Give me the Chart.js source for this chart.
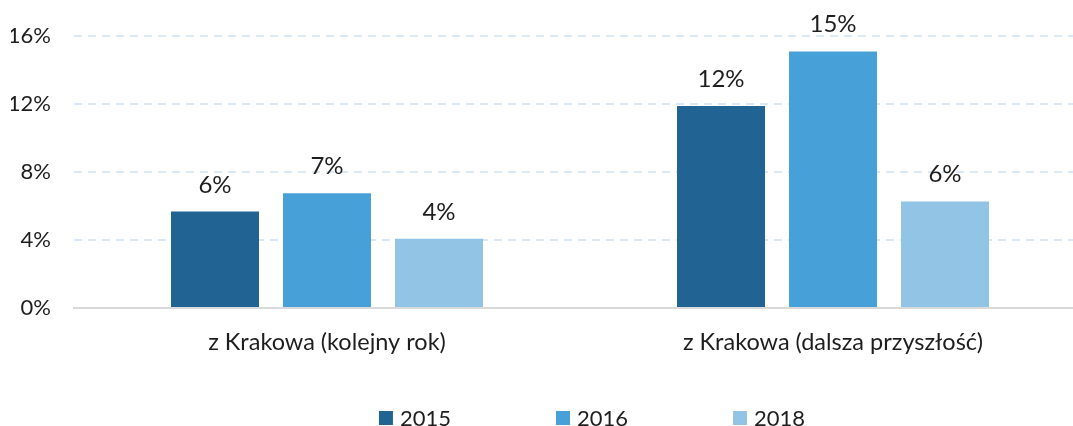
<!DOCTYPE html>
<html><head><meta charset="utf-8">
<script src="https://cdn.jsdelivr.net/npm/chart.js@4.4.1/dist/chart.umd.min.js"></script>
<style>
html,body{margin:0;padding:0;overflow:hidden;background:#fff;width:1073px;height:426px}
#wrap{width:1073px;height:426px;overflow:hidden;position:relative}
canvas{display:block}
</style></head>
<body><div id="wrap"><canvas id="c" width="1184" height="426"></canvas></div>
<script>
const categories = ['z Krakowa (kolejny rok)', 'z Krakowa (dalsza przyszłość)'];
const seriesLabels = ['2015', '2016', '2018'];
const values2015 = [5.68, 11.89];
const values2016 = [6.76, 15.10];
const values2018 = [4.08, 6.27];
const yTicks = [0, 4, 8, 12, 16];
const seriesColors = ['#216493', '#48A0D8', '#92C4E6'];

const FONT = 'Lato';
const TEXT = '#1e1e1e';

const valueLabels = {
  id: 'valueLabels',
  afterDatasetsDraw(chart) {
    const ctx = chart.ctx;
    ctx.save();
    ctx.font = '24px ' + FONT;
    ctx.fillStyle = TEXT;
    ctx.textAlign = 'center';
    ctx.textBaseline = 'alphabetic';
    chart.data.datasets.forEach((ds, i) => {
      chart.getDatasetMeta(i).data.forEach((bar, j) => {
        ctx.fillText(Math.round(ds.data[j]) + '%', bar.x, bar.y - 19);
      });
    });
    ctx.restore();
  }
};

const bottomLegend = {
  id: 'bottomLegend',
  afterDraw(chart) {
    const ctx = chart.ctx;
    ctx.save();
    ctx.font = '22px ' + FONT;
    ctx.textBaseline = 'middle';
    ctx.textAlign = 'left';
    const box = 14, gapText = 7, gapItem = 105, yc = 418;
    const items = chart.data.datasets.map(ds => ({
      t: ds.label, c: ds.backgroundColor,
      w: box + gapText + ctx.measureText(ds.label).width
    }));
    const total = items.reduce((s, it) => s + it.w, 0) + gapItem * (items.length - 1);
    let x = chart.width / 2 - total / 2;
    items.forEach(it => {
      ctx.fillStyle = it.c;
      ctx.fillRect(x, yc - 7, box, box);
      ctx.fillStyle = TEXT;
      ctx.fillText(it.t, x + box + gapText, yc + 1);
      x += it.w + gapItem;
    });
    ctx.restore();
  }
};

const seriesValues = [values2015, values2016, values2018];

new Chart(document.getElementById('c'), {
  type: 'bar',
  data: {
    labels: categories,
    datasets: seriesLabels.map((lab, i) => ({
      label: lab,
      data: seriesValues[i],
      backgroundColor: seriesColors[i],
      borderWidth: 0,
      categoryPercentage: 0.664,
      barPercentage: 0.786
    }))
  },
  options: {
    responsive: false,
    animation: false,
    layout: { padding: { left: 11, right: 98, top: 36, bottom: 70 } },
    plugins: { legend: { display: false }, tooltip: { enabled: false } },
    scales: {
      x: {
        grid: { display: false, drawTicks: false },
        border: { display: true, color: '#D9D9D9', width: 2 },
        ticks: { font: { family: FONT, size: 23.5 }, color: TEXT, padding: 20, maxRotation: 0 },
        afterFit: s => { s.height = 48; }
      },
      y: {
        min: 0, max: 16,
        afterBuildTicks: s => { s.ticks = yTicks.map(v => ({ value: v })); },
        grid: {
          color: c => (c.tick && c.tick.value === 0) ? 'rgba(0,0,0,0)' : '#DAE9F5',
          lineWidth: 2, drawTicks: false
        },
        border: { display: false, dash: [8, 6] },
        ticks: { font: { family: FONT, size: 22 }, color: TEXT, padding: 23, callback: v => v + '%' },
        afterFit: s => { s.width = 63; }
      }
    }
  },
  plugins: [valueLabels, bottomLegend]
});
</script>
</body></html>
